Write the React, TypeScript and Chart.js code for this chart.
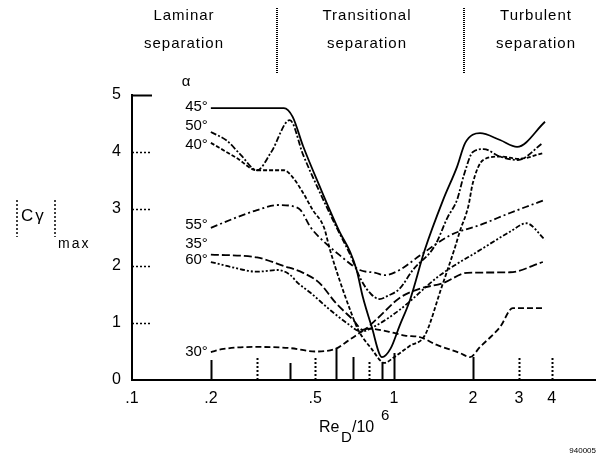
import React, { useEffect, useRef } from "react";
import { Chart, registerables } from "chart.js";

Chart.register(...registerables);

// ---------- data ----------
const alphaLabels = ["45°", "50°", "40°", "55°", "35°", "60°", "30°"];
const alphaLabelCy = [4.8, 4.45, 4.13, 2.72, 2.38, 2.1, 0.5];

const re45 = [0.2, 0.3, 0.38, 0.41, 0.45, 0.52, 0.62, 0.68, 0.72, 0.76, 0.82, 0.9, 0.97, 1.05, 1.15, 1.31, 1.54, 1.74, 1.87, 2.13, 2.54, 2.95, 3.77];
const cy45 = [4.77, 4.77, 4.77, 4.62, 4.1, 3.4, 2.6, 2.25, 1.93, 1.46, 0.95, 0.4, 0.55, 0.95, 1.4, 2.28, 3.16, 3.74, 4.16, 4.33, 4.21, 4.09, 4.53];

const re50 = [0.2, 0.23, 0.26, 0.3, 0.34, 0.4, 0.45, 0.52, 0.6, 0.68, 0.75, 0.82, 0.88, 0.95, 1.05, 1.18, 1.43, 1.6, 1.74, 1.85, 2.0, 2.2, 2.54, 2.97, 3.7];
const cy50 = [4.35, 4.2, 3.95, 3.68, 4.0, 4.56, 3.95, 3.3, 2.7, 2.2, 1.75, 1.5, 1.42, 1.48, 1.6, 1.93, 2.35, 2.85, 3.16, 3.6, 4.0, 4.05, 3.92, 3.86, 4.16];

const re40 = [0.2, 0.25, 0.3, 0.38, 0.41, 0.45, 0.49, 0.54, 0.57, 0.62, 0.68, 0.73, 0.82, 0.92, 1.0, 1.15, 1.31, 1.52, 1.71, 1.79, 1.92, 2.0, 2.19, 2.54, 3.0, 3.7];
const cy40 = [4.16, 3.9, 3.68, 3.68, 3.56, 3.28, 2.98, 2.68, 2.28, 1.75, 1.23, 0.88, 0.55, 0.3, 0.4, 0.6, 0.78, 1.63, 2.33, 2.63, 3.04, 3.46, 3.86, 3.92, 3.88, 3.98];

const re55 = [0.2, 0.25, 0.3, 0.36, 0.41, 0.44, 0.48, 0.52, 0.62, 0.74, 0.85, 0.92, 1.05, 1.26, 1.64, 2.13, 2.77, 3.2, 3.77];
const cy55 = [2.67, 2.85, 2.98, 3.07, 3.05, 2.98, 2.68, 2.5, 2.19, 1.93, 1.88, 1.84, 1.93, 2.19, 2.54, 2.72, 2.93, 3.04, 3.16];

const re35 = [0.2, 0.3, 0.38, 0.45, 0.52, 0.6, 0.7, 0.76, 0.85, 1.05, 1.25, 1.54, 1.9, 2.77, 3.7];
const cy35 = [2.2, 2.15, 2.0, 1.88, 1.7, 1.35, 1.05, 0.88, 1.05, 1.44, 1.6, 1.7, 1.88, 1.89, 2.07];

const re60 = [0.2, 0.24, 0.3, 0.36, 0.4, 0.43, 0.48, 0.57, 0.66, 0.75, 0.85, 1.05, 1.5, 2.13, 2.77, 3.2, 3.77];
const cy60 = [2.07, 1.98, 1.9, 1.93, 1.85, 1.7, 1.53, 1.23, 1.0, 0.85, 0.95, 1.23, 1.84, 2.28, 2.6, 2.75, 2.46];

const re30 = [0.2, 0.22, 0.3, 0.4, 0.5, 0.6, 0.65, 0.7, 0.8, 0.95, 1.1, 1.26, 1.45, 1.79, 1.95, 2.13, 2.54, 2.84, 3.2, 3.7];
const cy30 = [0.49, 0.54, 0.58, 0.56, 0.5, 0.55, 0.65, 0.75, 0.9, 0.85, 0.78, 0.75, 0.62, 0.47, 0.4, 0.58, 0.93, 1.26, 1.26, 1.26];

const xTickValues = [0.1, 0.2, 0.5, 1, 2, 3, 4];
const xTickLabels = [".1", ".2", ".5", "1", "2", "3", "4"];
const xMarkValues = [0.2, 0.3, 0.4, 0.5, 0.6, 0.7, 0.8, 0.9, 1, 2, 3, 4];
const yMarkValues = [1, 2, 3, 4, 5];
const regionNames = [["Laminar", "separation"], ["Transitional", "separation"], ["Turbulent", "separation"]];

// ---------- styles ----------
const FONT = "'Liberation Sans', Arial, sans-serif";
const seriesRe = [re45, re50, re40, re55, re35, re60, re30];
const seriesCy = [cy45, cy50, cy40, cy55, cy35, cy60, cy30];
const seriesDash = [[], [6, 2, 2, 2], [4, 2], [7, 3, 2, 3], [8, 3], [5, 2, 2, 2, 2, 2], [6, 3]];
const markDash = [[], [2, 2], [], [2, 2], [], [], [2, 2], [], [], [], [2, 2], [2, 2]];
const markLen = [20, 23, 17, 23, 32, 23, 20, 18, 27, 23, 23, 23];

const overlay = {
  id: "overlay",
  afterDraw(chart: any) {
    const { ctx, scales } = chart;
    const x = scales.x;
    const y = scales.y;
    const y0 = y.getPixelForValue(0);
    ctx.save();
    ctx.fillStyle = "#000";
    ctx.strokeStyle = "#000";

    // x-axis vertical tick marks
    xMarkValues.forEach((v, i) => {
      const px = Math.round(x.getPixelForValue(v)) + 0.5;
      ctx.setLineDash(markDash[i]);
      ctx.lineWidth = 2;
      ctx.beginPath();
      ctx.moveTo(px, y0);
      ctx.lineTo(px, y0 - markLen[i]);
      ctx.stroke();
    });
    // y-axis tick marks
    const x0 = x.left;
    yMarkValues.forEach((v) => {
      const py = Math.round(y.getPixelForValue(v)) + 0.5;
      ctx.setLineDash(v === 5 ? [] : [2, 2]);
      ctx.lineWidth = v === 5 ? 2 : 1.5;
      ctx.beginPath();
      ctx.moveTo(x0, py);
      ctx.lineTo(x0 + 20, py);
      ctx.stroke();
    });
    ctx.setLineDash([]);

    // angle labels
    ctx.font = `15px ${FONT}`;
    ctx.textAlign = "right";
    ctx.textBaseline = "middle";
    alphaLabels.forEach((lab, i) => {
      const px = x.getPixelForValue(seriesRe[i][0]) - 3;
      const py = y.getPixelForValue(alphaLabelCy[i]);
      ctx.fillText(lab, px, py);
    });
    ctx.textAlign = "center";
    ctx.fillText("α", 186, 82);

    // top region labels
    ctx.font = `15px ${FONT}`;
    (ctx as any).letterSpacing = "1px";
    const centers = [184, 367, 536];
    regionNames.forEach((pair, i) => {
      ctx.fillText(pair[0], centers[i], 16);
      ctx.fillText(pair[1], centers[i], 44);
    });
    (ctx as any).letterSpacing = "0px";
    // dividers
    [277, 464].forEach((dx) => {
      ctx.lineWidth = 2;
      ctx.setLineDash([1, 1]);
      ctx.beginPath();
      ctx.moveTo(dx, 8);
      ctx.lineTo(dx, 74);
      ctx.stroke();
    });
    ctx.setLineDash([]);

    // y title |Cγ|max
    ctx.textAlign = "left";
    ctx.textBaseline = "alphabetic";
    ctx.font = `17px ${FONT}`;
    (ctx as any).letterSpacing = "2px";
    ctx.fillText("Cγ", 21, 221);
    ctx.font = `14px ${FONT}`;
    ctx.fillText("max", 58, 248);
    (ctx as any).letterSpacing = "0px";
    ctx.lineWidth = 1.5;
    ctx.setLineDash([2, 2]);
    [17, 55].forEach((bx) => {
      ctx.beginPath();
      ctx.moveTo(bx, 200);
      ctx.lineTo(bx, 237);
      ctx.stroke();
    });
    ctx.setLineDash([]);

    // x title Re_D/10^6
    ctx.font = `16px ${FONT}`;
    ctx.fillText("Re", 319, 432);
    ctx.font = `15px ${FONT}`;
    ctx.fillText("D", 341, 442);
    ctx.font = `16px ${FONT}`;
    ctx.fillText("/10", 352, 432);
    ctx.font = `15px ${FONT}`;
    ctx.fillText("6", 381, 420);

    // footnote
    ctx.font = `8px ${FONT}`;
    ctx.textAlign = "right";
    ctx.fillText("940005", 596, 453);
    ctx.restore();
  },
};

export default function App() {
  const ref = useRef<HTMLCanvasElement | null>(null);
  useEffect(() => {
    if (!ref.current) return;
    const datasets = alphaLabels.map((lab, i) => ({
      label: lab,
      data: seriesRe[i].map((r, j) => ({ x: r, y: seriesCy[i][j] })),
      borderColor: "#000",
      backgroundColor: "#000",
      borderWidth: 1.8,
      borderDash: seriesDash[i],
      pointRadius: 0,
      cubicInterpolationMode: "monotone" as const,
      fill: false,
    }));
    const chart = new Chart(ref.current, {
      type: "line",
      data: { datasets },
      options: {
        animation: false,
        responsive: false,
        layout: { padding: { left: 0, top: 95, right: 8, bottom: 0 } },
        plugins: { legend: { display: false }, tooltip: { enabled: false }, title: { display: false } },
        scales: {
          x: {
            type: "logarithmic",
            min: 0.1,
            max: 5.85,
            grid: { display: false, drawTicks: false },
            border: { display: true, color: "#000", width: 2 },
            afterBuildTicks: (scale: any) => {
              scale.ticks = xTickValues.map((v) => ({ value: v }));
            },
            afterFit: (scale: any) => {
              scale.height = 78;
            },
            ticks: {
              autoSkip: false,
              maxRotation: 0,
              padding: 9,
              color: "#000",
              font: { family: FONT, size: 16 },
              callback: (v: any) => {
                const idx = xTickValues.indexOf(Number(v));
                return idx >= 0 ? xTickLabels[idx] : "";
              },
            },
          },
          y: {
            type: "linear",
            min: 0,
            max: 5,
            grid: { display: false, drawTicks: false },
            border: { display: true, color: "#000", width: 2, dash: [1, 1] },
            afterFit: (scale: any) => {
              scale.width = 132;
            },
            ticks: {
              stepSize: 1,
              padding: 11,
              color: "#000",
              font: { family: FONT, size: 16 },
            },
          },
        },
      },
      plugins: [overlay],
    });
    return () => chart.destroy();
  }, []);
  return (
    <div style={{ position: "fixed", left: 0, top: 0, width: 603, height: 458, background: "#fff" }}>
      <canvas ref={ref} width={603} height={458} />
    </div>
  );
}
